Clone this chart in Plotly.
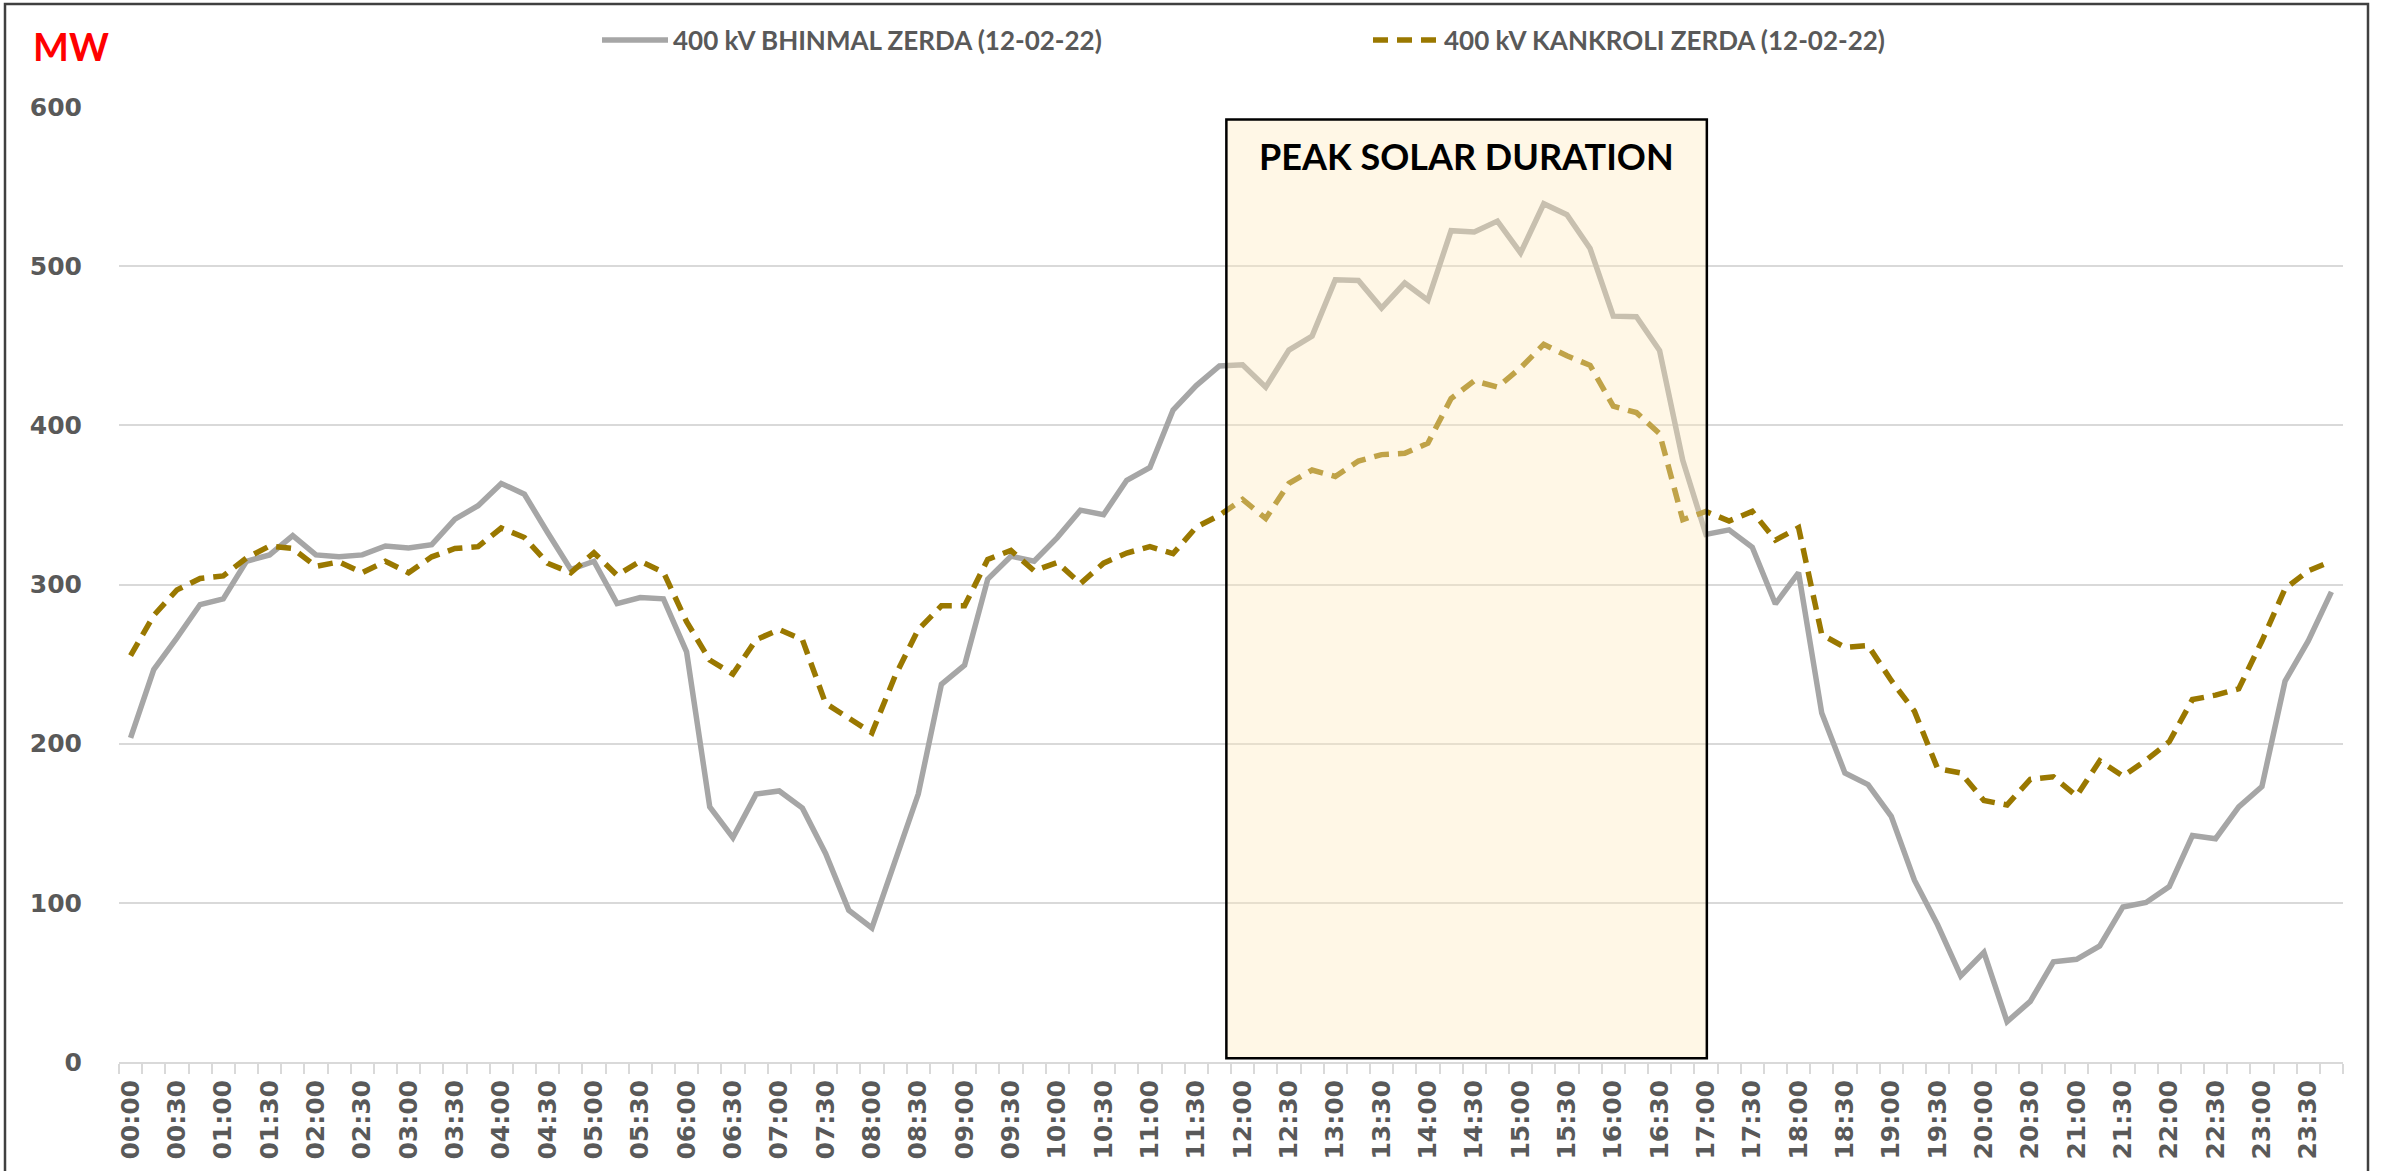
import plotly.graph_objects as go

# 15-minute time blocks (categories)
times = [f"{h:02d}:{m:02d}" for h in range(24) for m in (0, 15, 30, 45)]
tick_text = [t if t.endswith(":00") or t.endswith(":30") else "" for t in times]

bhinmal = [
    203.6, 246.5, 266.5, 287.4, 291.0, 314.6, 318.6, 330.7, 318.6, 317.4, 318.6, 324.2,
    323.0, 325.0, 341.0, 349.5, 363.5, 356.7, 332.7, 309.4, 314.6, 288.0, 291.8, 291.0,
    257.7, 160.3, 141.0, 168.3, 170.3, 159.5, 131.0, 95.4, 84.2, 125.5, 168.3, 237.3,
    249.3, 303.4, 317.8, 314.6, 329.5, 346.7, 343.9, 365.5, 373.5, 409.6, 425.0, 437.3,
    438.1, 424.0, 447.3, 456.1, 491.4, 491.0, 473.7, 489.4, 478.6, 522.3, 521.5, 528.3,
    508.3, 539.2, 532.3, 511.1, 468.6, 468.2, 447.0, 378.0, 331.5, 334.3, 323.4, 287.8,
    307.4, 219.2, 181.6, 174.3, 154.3, 114.2, 86.2, 54.1, 68.9, 25.3, 38.1, 62.9,
    64.5, 72.9, 97.4, 100.2, 110.2, 142.3, 140.3, 160.3, 173.1, 239.3, 264.5, 295.4,
]

kankroli = [
    255.3, 280.6, 296.6, 303.8, 305.4, 316.6, 324.2, 322.6, 311.4, 314.2, 307.4, 314.6,
    307.4, 317.4, 322.6, 323.8, 335.5, 329.5, 313.4, 307.4, 320.0, 305.8, 314.6, 307.8,
    276.6, 252.5, 243.7, 265.3, 271.7, 265.3, 225.3, 216.4, 206.8, 242.5, 271.7, 286.6,
    286.6, 315.8, 321.4, 308.6, 313.8, 300.6, 313.4, 319.8, 323.8, 319.4, 336.0, 343.5,
    353.5, 341.5, 363.5, 371.9, 367.9, 377.6, 381.6, 382.4, 388.8, 416.8, 428.0, 424.0,
    436.1, 450.9, 443.7, 437.7, 412.0, 408.0, 394.8, 340.7, 345.9, 339.9, 345.9, 327.9,
    335.7, 268.5, 260.5, 261.7, 239.7, 220.4, 184.4, 181.6, 164.3, 161.5, 177.6, 179.2,
    167.1, 189.2, 179.6, 189.6, 201.2, 227.7, 230.5, 234.5, 264.5, 297.4, 308.6, 314.6,
]

series_names = ["400 kV BHINMAL ZERDA (12-02-22)", "400 kV KANKROLI ZERDA (12-02-22)"]
box_label = "PEAK SOLAR DURATION"
y_ticks = [0, 100, 200, 300, 400, 500, 600]

L, R, T, B = 119, 44, 107, 109
W, H = 2387, 1171
PW, PH = W - L - R, H - T - B


def px(xpix):
    return (xpix - L) / PW


def py(ypix):
    return (H - B - ypix) / PH


fig = go.Figure()
fig.add_trace(go.Scatter(
    x=times, y=bhinmal, mode="lines", name=series_names[0],
    line=dict(color="#A6A6A6", width=5.5),
))
fig.add_trace(go.Scatter(
    x=times, y=kankroli, mode="lines", name=series_names[1],
    line=dict(color="#9A7800", width=5.5, dash="15px,9px"),
))

tick_font = dict(family="DejaVu Sans", size=25, color="#595959", weight="bold")

fig.update_layout(
    width=W, height=H,
    margin=dict(l=L, r=R, t=T, b=B),
    paper_bgcolor="white", plot_bgcolor="white",
    showlegend=True,
    legend=dict(
        orientation="h", x=px(597), y=py(40), xanchor="left", yanchor="middle",
        font=dict(family="Lato", size=26, color="#595959", weight="bold"),
        entrywidth=690, entrywidthmode="pixels", itemwidth=66,
        bgcolor="rgba(0,0,0,0)",
    ),
    xaxis=dict(
        type="category", tickson="boundaries",
        tickmode="array", tickvals=times, ticktext=tick_text,
        tickangle=-90, tickfont=tick_font,
        ticks="outside", ticklen=10, tickwidth=2, tickcolor="#D9D9D9",
        showline=True, linecolor="#D9D9D9", linewidth=2,
        showgrid=False, zeroline=False,
        range=[-0.5, 95.5],
        ticklabelstandoff=6,
    ),
    yaxis=dict(
        range=[0, 600], tickmode="array", tickvals=y_ticks,
        tickfont=dict(family="DejaVu Sans", size=25, color="#595959", weight="bold"),
        showgrid=True, gridcolor="#D9D9D9", gridwidth=2,
        zeroline=False, showline=False, ticks="",
        ticklabelstandoff=36,
    ),
)

# Peak solar duration box (drawn above the lines, semi-transparent)
fig.add_shape(
    type="rect", xref="x", yref="y",
    x0=47.3, x1=68.04, y0=2.3, y1=592.2,
    fillcolor="rgba(255,234,189,0.38)",
    line=dict(color="black", width=2.5),
    layer="above",
)
fig.add_annotation(
    x=57.67, y=569, xref="x", yref="y", text=box_label, showarrow=False,
    font=dict(family="Lato", size=36, color="black", weight="bold"),
    xanchor="center", yanchor="middle",
)

# Unit label
fig.add_annotation(
    x=px(31), y=py(46), xref="paper", yref="paper", text="MW", showarrow=False,
    font=dict(family="Lato", size=38, color="#FF0000", weight="bold"),
    xanchor="left", yanchor="middle",
)

# Chart outer border
fig.add_shape(
    type="rect", xref="paper", yref="paper",
    x0=px(5), x1=px(2368), y0=py(1185), y1=py(4),
    line=dict(color="#404040", width=2.5), fillcolor="rgba(0,0,0,0)",
    layer="below",
)

fig.write_html(
    "out.html",
    config={"displayModeBar": False},
    post_script="document.body.style.margin='0';document.body.style.overflow='hidden';",
)
